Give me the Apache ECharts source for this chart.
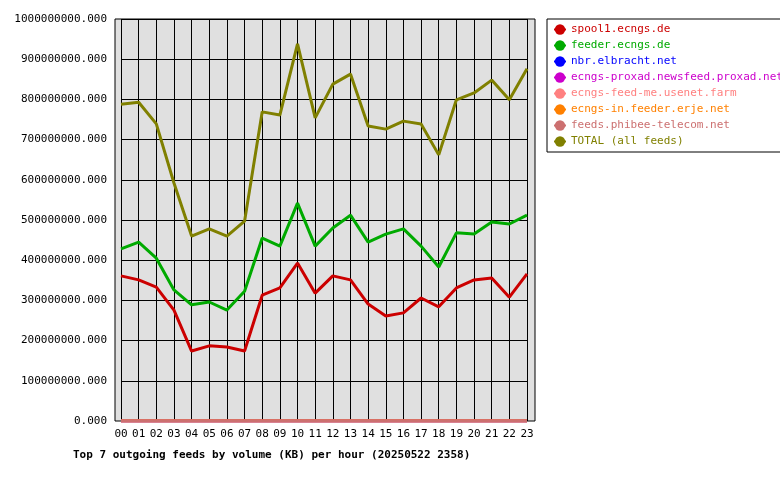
<!DOCTYPE html>
<html><head><meta charset="utf-8">
<script src="https://cdn.jsdelivr.net/npm/echarts@6/dist/echarts.min.js"></script>
<style>html,body{margin:0;background:#fff}#c{width:780px;height:480px}</style>
</head><body><div id="c"></div>
<script>
const hours = ["00","01","02","03","04","05","06","07","08","09","10","11","12","13","14","15","16","17","18","19","20","21","22","23"];
const seriesNames = ["spool1.ecngs.de","feeder.ecngs.de","nbr.elbracht.net","ecngs-proxad.newsfeed.proxad.net","ecngs-feed-me.usenet.farm","ecngs-in.feeder.erje.net","feeds.phibee-telecom.net","TOTAL (all feeds)"];
const colors = ["#cc0000","#00aa00","#0000ff","#cc00cc","#ff8080","#ff8000","#cc7070","#808000"];
const spool1 = [361,351,333,276,174,187,184,174,313,331,393,318,361,351,291,261,269,306,284,331,351,356,308,366];
const feeder = [428,445,405,326,289,296,276,323,455,435,542,435,480,512,445,465,478,435,383,468,465,495,490,512];
const zeros = hours.map(()=>0);
const total = [788,793,739,592,460,478,460,497,769,761,938,754,838,863,734,726,746,739,662,799,816,848,799,876];
const values = [spool1,feeder,zeros,zeros,zeros,zeros,zeros,total].map(a=>a.map(v=>v*1e6));
const font = "DejaVu Sans Mono";
const chart = echarts.init(document.getElementById('c'));
chart.setOption({
  animation:false,
  textStyle:{fontFamily:font},
  graphic:[{type:'rect',z:-10,shape:{x:115,y:19,width:420,height:402},style:{fill:'#e0e0e0',stroke:'#000',lineWidth:1}}],
  title:{text:"Top 7 outgoing feeds by volume (KB) per hour (20250522 2358)",left:68,top:445,textStyle:{fontFamily:font,fontSize:11,fontWeight:'bold',color:'#000'}},
  legend:{orient:'vertical',left:547,top:19,width:210,padding:[5,10,5,6],itemGap:5,itemWidth:12,itemHeight:13,
    backgroundColor:'#fff',borderColor:'#000',borderWidth:1,
    data:seriesNames.map((n,i)=>({name:n,textStyle:{color:colors[i]}})),
    textStyle:{fontFamily:font,fontSize:11,padding:[0,0,0,0]}},
  grid:{left:121,right:253,top:19,bottom:59},
  xAxis:{type:'category',data:hours,boundaryGap:false,
    axisLine:{show:false},axisTick:{show:false},
    axisLabel:{color:'#000',fontFamily:font,fontSize:11,margin:8},
    splitLine:{show:true,lineStyle:{color:'#000',width:1}}},
  yAxis:{type:'value',min:0,max:1e9,interval:1e8,
    axisLine:{show:false},axisTick:{show:false},
    axisLabel:{color:'#000',fontFamily:font,fontSize:11,margin:14,formatter:v=>v.toFixed(0)+'.000'},
    splitLine:{lineStyle:{color:'#000',width:1}}},
  series:seriesNames.map((n,i)=>({name:n,type:'line',data:values[i],color:colors[i],
    symbol:'circle',symbolSize:3,showSymbol:false,lineStyle:{width:3,color:colors[i]},z:(i===7?10:(i<2?5:2))}))
});
</script></body></html>
